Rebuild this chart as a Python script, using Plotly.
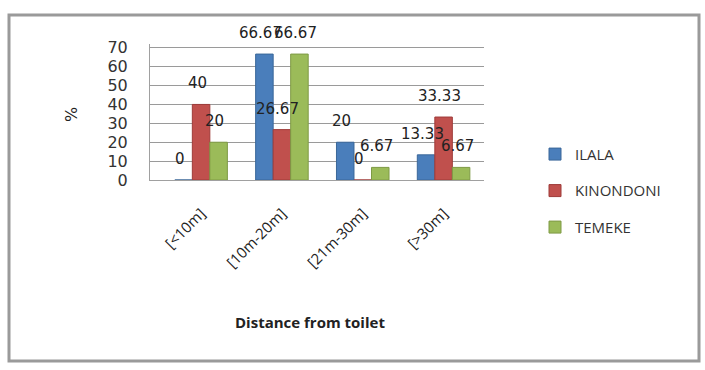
import plotly.graph_objects as go

categories = ["[<10m]", "[10m-20m]", "[21m-30m]", "[>30m]"]
ilala = [0, 66.67, 20, 13.33]
kinondoni = [40, 26.67, 0, 33.33]
temeke = [20, 66.67, 6.67, 6.67]
series_names = ["ILALA", "KINONDONI", "TEMEKE"]
y_ticks = [0, 10, 20, 30, 40, 50, 60, 70]

colors = ["#4A7EBB", "#C0504D", "#9BBB59"]
line_colors = ["#3A6799", "#9E3B39", "#7E9A45"]

W, H = 705, 370
left, right, top, bottom = 150, 221, 44, 190
x_range = [-0.632, 3.5]
bargap = 0.35
plot_w = W - left - right
plot_h = H - top - bottom
cat_px = plot_w / (x_range[1] - x_range[0])
bar_px = cat_px * (1 - bargap) / 3

fig = go.Figure()
annotations = []
for i, (name, vals) in enumerate(zip(series_names, [ilala, kinondoni, temeke])):
    fig.add_trace(go.Bar(
        x=categories, y=vals, name=name,
        marker=dict(color=colors[i], line=dict(color=line_colors[i], width=1)),
        legendgroup=name, hoverinfo="x+y+name",
    ))
    for c, v in zip(categories, vals):
        annotations.append(dict(
            x=c, y=v, xref="x", yref="y", text=f"{v:g}", showarrow=False,
            xanchor="center", yanchor="bottom",
            xshift=(i - 1) * bar_px - 4, yshift=10,
            font=dict(family="DejaVu Sans", size=15, color="#222222"),
        ))

annotations += [
    dict(text="<b>Distance from toilet</b>", xref="paper", yref="paper",
         x=(310 - left) / plot_w, y=-(322 - (H - bottom)) / plot_h,
         xanchor="center", yanchor="middle",
         showarrow=False, font=dict(family="Open Sans", size=15, color="#222222")),
    dict(text="%", xref="paper", yref="paper",
         x=-(left - 72) / plot_w, y=((H - bottom) - 115) / plot_h,
         xanchor="center", yanchor="middle",
         showarrow=False, textangle=-90, font=dict(family="DejaVu Sans", size=16, color="#222222")),
]

fig.update_layout(
    width=W, height=H,
    margin=dict(l=left, r=right, t=top, b=bottom),
    paper_bgcolor="white", plot_bgcolor="white",
    barmode="group", bargap=bargap, bargroupgap=0.0,
    font=dict(family="DejaVu Sans", color="#222222"),
    showlegend=True,
    legend=dict(x=(535 - left) / plot_w, y=0.31, xanchor="left", yanchor="top",
                font=dict(family="Open Sans", size=15, color="#333333"),
                tracegroupgap=14, traceorder="grouped",
                bgcolor="rgba(0,0,0,0)"),
    xaxis=dict(range=x_range, tickangle=-45, tickfont=dict(family="Open Sans", size=15, color="#222222"),
               showline=True, linecolor="#A0A0A0", ticks="outside", ticklen=18,
               tickcolor="rgba(0,0,0,0)", showgrid=False),
    yaxis=dict(range=[0, 72], tickvals=y_ticks, tickfont=dict(family="DejaVu Sans", size=16, color="#333333"),
               showgrid=True, gridcolor="#9A9A9A", gridwidth=1,
               showline=True, linecolor="#A0A0A0", ticks="outside", ticklen=18,
               tickcolor="rgba(0,0,0,0)", zeroline=False),
    annotations=annotations,
    shapes=[
        dict(type="rect", xref="paper", yref="paper",
             x0=-(left - 9) / plot_w, x1=(699 - left) / plot_w,
             y0=-(361 - (H - bottom)) / plot_h, y1=((H - bottom) - 15) / plot_h,
             line=dict(color="#9A9A9A", width=3), layer="below"),
    ],
)

fig.write_html("out.html")
